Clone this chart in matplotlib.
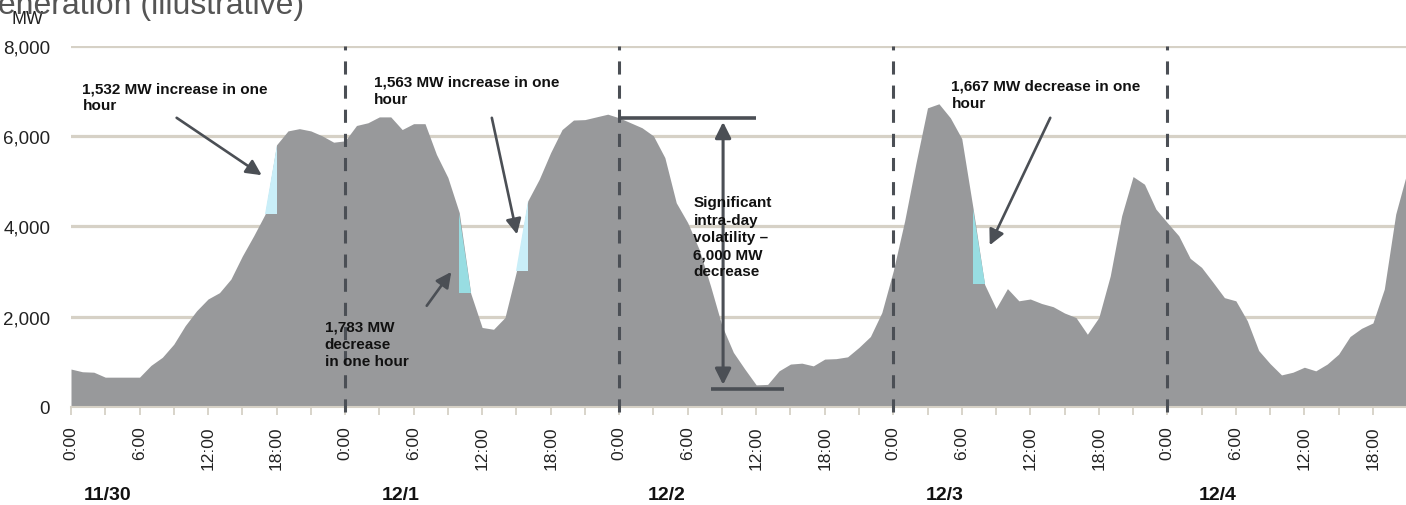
import matplotlib
matplotlib.use("Agg")
import matplotlib.pyplot as plt
from matplotlib.ticker import MultipleLocator, FixedLocator
from matplotlib.transforms import blended_transform_factory
import numpy as np

plt.rcParams['font.family'] = ['Liberation Sans', 'DejaVu Sans']

# hourly output, 11/30 0:00 through 12/4 21:00
mw = [840, 780, 770, 660, 660, 660, 660, 920, 1100, 1390,
      1800, 2130, 2390, 2530, 2830, 3340, 3790, 4270, 5802, 6110,
      6160, 6110, 6000, 5860, 5890, 6230, 6290, 6420, 6420, 6140,
      6270, 6270, 5590, 5080, 4300, 2517, 1760, 1720, 1980, 3000,
      4563, 5040, 5630, 6140, 6350, 6360, 6420, 6480, 6400, 6290,
      6180, 6000, 5520, 4520, 4080, 3490, 2680, 1800, 1210, 840,
      490, 500, 800, 950, 970, 910, 1060, 1070, 1110, 1320,
      1560, 2090, 3010, 4120, 5410, 6620, 6710, 6400, 5940, 4380,
      2713, 2180, 2620, 2350, 2390, 2290, 2220, 2080, 1980, 1610,
      1980, 2900, 4230, 5100, 4930, 4380, 4080, 3790, 3290, 3090,
      2760, 2420, 2350, 1910, 1250, 960, 710, 770, 880, 800,
      950, 1170, 1560, 1740, 1860, 2610, 4270, 5200]
hours = np.arange(len(mw))

days = ['11/30', '12/1', '12/2', '12/3', '12/4']
day_label_x = [3.2, 28.9, 52.2, 76.5, 100.4]
day_starts = [24, 48, 72, 96]

# (start hour, end hour, label)
ramps = [(17, 18, '1,532 MW increase in one\nhour'),
         (39, 40, '1,563 MW increase in one\nhour'),
         (34, 35, '1,783 MW\ndecrease\nin one hour'),
         (79, 80, '1,667 MW decrease in one\nhour')]
ramp_text_pos = [(1.0, 7210), (26.5, 7360), (22.2, 1930), (77.1, 7265)]
ramp_arrows = [((9.25, 6400), (16.7, 5130)),
               ((36.85, 6400), (39.05, 3820)),
               ((31.15, 2240), (33.3, 2990)),
               ((85.75, 6400), (80.45, 3580))]

swing_top = 6400
swing_bottom = 400
swing_label = 'Significant\nintra-day\nvolatility \u2013\n6,000 MW\ndecrease'

W, H = 1406, 506
fig = plt.figure(figsize=(W / 100, H / 100), dpi=100)
ax = fig.add_axes([71 / W, 1 - 408 / H, (W - 71) / W, (408 - 46.5) / H])

grey = '#98999b'
tan = '#d6d1c6'
dark = '#4b4f55'

for g in [2000, 4000, 6000, 8000]:
    ax.axhline(g, color=tan, lw=2.3, zorder=1)

ax.fill_between(hours, 0, mw, color=grey, lw=0, zorder=2)

# one-hour ramp triangles
for a, b, _ in ramps:
    va, vb = mw[a], mw[b]
    if vb > va:
        ax.fill([a, b, b], [va, va, vb], color='#c9eef8', lw=0, zorder=3)
    else:
        ax.fill([a, a, b], [va, vb, vb], color='#98dde2', lw=0, zorder=3)

for d in day_starts:
    ax.axvline(d, ymin=-0.015, ymax=1.0, color=dark, lw=2.2,
               linestyle=(0, (4.3, 3.6)), zorder=4, clip_on=False)

for (a, b, txt), (tx, ty), (start, tip) in zip(ramps, ramp_text_pos, ramp_arrows):
    ax.text(tx, ty, txt, fontsize=11, fontweight='bold', color='#111111',
            ha='left', va='top', linespacing=1.3, zorder=6)
    ax.annotate('', xy=tip, xytext=start,
                arrowprops=dict(arrowstyle='-|>', color=dark, lw=1.9,
                                mutation_scale=23, shrinkA=0, shrinkB=0),
                zorder=5)

# intra-day swing marker
ax.plot([47.9, 60.0], [swing_top, swing_top], color=dark, lw=2.6, zorder=5,
        solid_capstyle='butt')
ax.plot([56.0, 62.4], [swing_bottom, swing_bottom], color=dark, lw=2.6, zorder=5,
        solid_capstyle='butt')
ax.annotate('', xy=(57.1, swing_top), xytext=(57.1, swing_bottom),
            arrowprops=dict(arrowstyle='<|-|>', color=dark, lw=2.2,
                            mutation_scale=24, shrinkA=3, shrinkB=3),
            zorder=5)
ax.text(54.5, 4685, swing_label, fontsize=11, fontweight='bold', color='#111111',
        ha='left', va='top', linespacing=1.3, zorder=6)

ax.set_xlim(0, 116.9)
ax.set_ylim(0, 8000)

for s in ['top', 'right', 'left']:
    ax.spines[s].set_visible(False)
ax.spines['bottom'].set_color(tan)
ax.spines['bottom'].set_linewidth(1.5)

ax.xaxis.set_minor_locator(MultipleLocator(3))
xt = np.arange(0, 117, 6)
ax.set_xticks(xt)
ax.set_xticklabels([f'{h % 24}:00' for h in xt], rotation=90, fontsize=12.5)
ax.tick_params(axis='x', which='both', colors=tan, length=6, width=1.3, pad=7,
               labelcolor='#222222')

ax.yaxis.set_major_locator(FixedLocator([0, 2000, 4000, 6000, 8000]))
ax.set_yticklabels(['0', '2,000', '4,000', '6,000', '8,000'], fontsize=13.5,
                   color='#222222')
ax.tick_params(axis='y', length=0, pad=15)

tr = blended_transform_factory(ax.transData, fig.transFigure)
for lab, x in zip(days, day_label_x):
    ax.text(x, 1 - 496 / H, lab, transform=tr, fontsize=14, fontweight='bold',
            ha='center', va='center', color='#111111', clip_on=False)

fig.text(11.5 / W, 1 - 23.5 / H, 'MW', fontsize=13, color='#222222',
         ha='left', va='baseline')
fig.text(-27 / W, 1 - 14 / H, 'Generation (illustrative)', fontsize=23,
         color='#555555', ha='left', va='baseline')

fig.savefig('out.png', dpi=100)
